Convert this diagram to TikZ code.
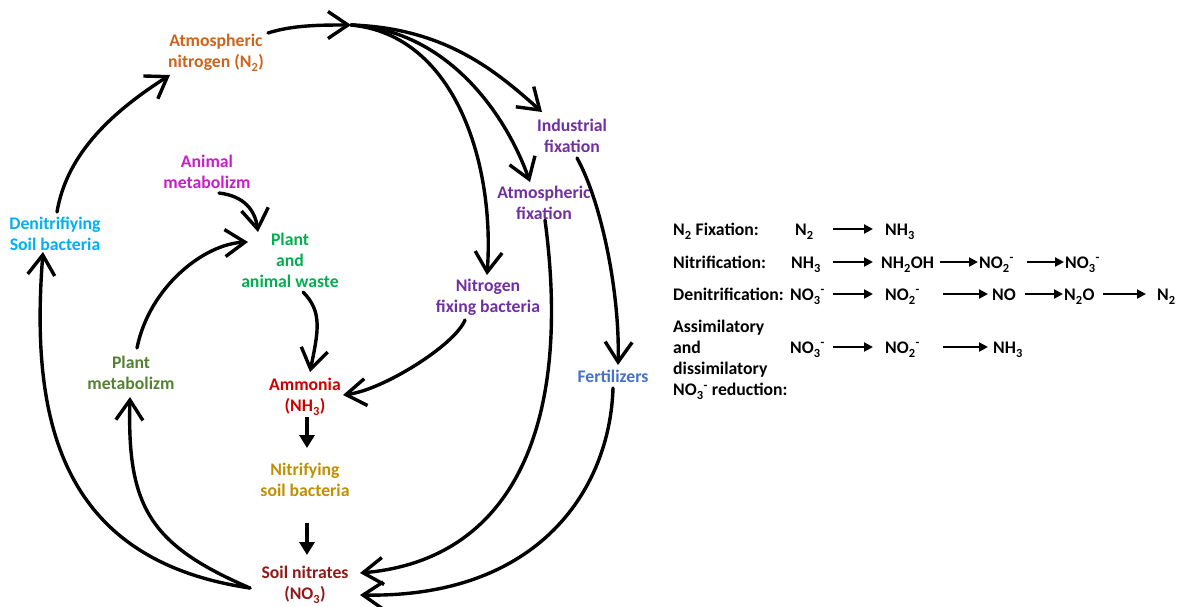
\documentclass[tikz,border=0pt]{standalone}
\usepackage{fontspec}
\setmainfont{Carlito}
\usetikzlibrary{arrows.meta,calc}
\definecolor{cN}{RGB}{205,100,30}
\definecolor{cAnim}{RGB}{200,30,200}
\definecolor{cDenit}{RGB}{0,176,240}
\definecolor{cWaste}{RGB}{0,176,80}
\definecolor{cPurple}{RGB}{112,48,160}
\definecolor{cFert}{RGB}{68,114,196}
\definecolor{cPlantm}{RGB}{84,130,53}
\definecolor{cAmm}{RGB}{205,0,0}
\definecolor{cNitr}{RGB}{191,144,0}
\definecolor{cSoil}{RGB}{145,25,25}
\newcommand\lblfont{\bfseries\fontsize{17.7}{21}\selectfont}
\newcommand\sbs[1]{\raisebox{-1.5pt}{\textsubscript{#1}}}
\begin{document}
\begin{tikzpicture}[x=1pt,y=-1pt,
  lbl/.style={font=\lblfont, align=center, inner sep=0pt},
  tt/.style={font=\lblfont, anchor=base west, inner sep=0pt},
  conn/.style={line width=3.4pt, line cap=round, -{Straight Barb[length=20pt,width=27pt]}},
  fconn/.style={line width=3.8pt, -{Triangle[length=13pt,width=15pt]}},
  tarr/.style={line width=2.2pt, -{Triangle[length=9pt,width=9pt]}}]
\useasboundingbox[fill=white] (0,0) rectangle (1177,606);

% ---- cycle nodes
\node[lbl, text=cN]     (n2)     at (216,53)  {Atmospheric\\nitrogen (N\sbs{2})};
\node[lbl, text=cAnim]  (anim)   at (207,172) {Animal\\metabolizm};
\node[lbl, text=cDenit] (denit)  at (55,234)  {Denitrifiying\\Soil bacteria};
\node[lbl, text=cWaste] (waste)  at (290,260) {Plant\\and\\animal waste};
\node[lbl, text=cPurple] (indf)  at (572,136) {Industrial\\fixation};
\node[lbl, text=cPurple] (atmf)  at (544,203) {Atmospheric\\fixation};
\node[lbl, text=cPurple] (nfb)   at (488,297) {Nitrogen\\fixing bacteria};
\node[lbl, text=cFert]  (fert)   at (613,376) {Fertilizers};
\node[lbl, text=cPlantm] (plantm) at (131,373) {Plant\\metabolizm};
\node[lbl, text=cAmm]   (amm)    at (305,397) {Ammonia\\(NH\sbs{3})};
\node[lbl, text=cNitr]  (nitr)   at (305,480) {Nitrifying\\soil bacteria};
\node[lbl, text=cSoil]  (soil)   at (305,585) {Soil nitrates\\(NO\sbs{3})};
\coordinate (hub) at (351,25);

% ---- connectors
\draw[conn] ($(n2)+(52,-20)$) .. controls +(25,-8) and +(-30,0) .. (hub);
\draw[conn] (hub) .. controls +(95,3) and +(-45,-40) .. ($(indf)+(-30,-24)$);
\draw[conn] (hub) .. controls +(95,5) and +(-25,-70) .. ($(atmf)+(-14,-21)$);
\draw[conn] (hub) .. controls +(105,10) and +(8,-110) .. ($(nfb)+(-1,-22)$);
\draw[conn] ($(indf)+(5,22)$) .. controls +(25,45) and +(2,-70) .. ($(fert)+(5,-11)$);
\draw[conn] ($(atmf)+(1,17)$) .. controls +(28,210) and +(150,-13) .. ($(soil)+(55,-12)$);
\draw[conn] ($(fert)+(0,12)$) .. controls +(-3,100) and +(180,3) .. ($(soil)+(55,10)$);
\draw[conn] ($(nfb)+(-23,23)$) .. controls +(-10,25) and +(40,-5) .. ($(amm)+(38,-2)$);
\draw[conn] ($(anim)+(12,21)$) .. controls +(25,3) and +(-3,-22) .. ($(waste)+(-32,-28)$);
\draw[conn] ($(plantm)+(6,-25)$) .. controls +(12,-60) and +(-45,2) .. ($(waste)+(-42,-18)$);
\draw[conn] ($(waste)+(13,32)$) .. controls +(20,20) and +(8,-40) .. ($(amm)+(5,-25)$);
\draw[fconn] ($(amm)+(2,20)$) -- ($(nitr)+(2,-32)$);
\draw[fconn] ($(nitr)+(2,43)$) -- ($(soil)+(2,-30)$);
\draw[conn] ($(soil)+(-55,3)$) .. controls +(-100,-43) and +(-3,110) .. ($(plantm)+(-1,24)$);
\draw[conn] ($(soil)+(-55,3)$) .. controls +(-190,-28) and +(-13,168) .. ($(denit)+(-12,18)$);
\draw[conn] ($(denit)+(2,-22)$) .. controls +(10,-60) and +(-55,35) .. ($(n2)+(-46,22)$);

% ---- reaction table
\node[tt] (l1)  at (673,235) {N\sbs{2} Fixation:};
\node[tt] (r1a) at (795,235) {N\sbs{2}};
\node[tt] (r1b) at (885,235) {NH\sbs{3}};

\node[tt] (l2)  at (673,268) {Nitrification:};
\node[tt] (r2a) at (791,268) {NH\sbs{3}};
\node[tt] (r2b) at (881,268) {NH\sbs{2}OH};
\node[tt] (r2c) at (979,268) {NO\sbs{2}\textsuperscript{-}};
\node[tt] (r2d) at (1065,268) {NO\sbs{3}\textsuperscript{-}};

\node[tt] (l3)  at (673,300) {Denitrification:};
\node[tt] (r3a) at (790,300) {NO\sbs{3}\textsuperscript{-}};
\node[tt] (r3b) at (885,300) {NO\sbs{2}\textsuperscript{-}};
\node[tt] (r3c) at (992,300) {NO};
\node[tt] (r3d) at (1064,300) {N\sbs{2}O};
\node[tt] (r3e) at (1157,300) {N\sbs{2}};

\node[font=\lblfont, align=left, anchor=west, inner sep=0pt] (l4) at (673,360)
  {Assimilatory\\and\\dissimilatory\\NO\sbs{3}\textsuperscript{-} reduction:};
\node[tt] (r4a) at (790,353) {NO\sbs{3}\textsuperscript{-}};
\node[tt] (r4b) at (885,353) {NO\sbs{2}\textsuperscript{-}};
\node[tt] (r4c) at (993,353) {NH\sbs{3}};

\foreach \n/\xa/\xb/\y in {1/833/873/229, 2/833/873/262, 3/940/978/262, 4/1027/1064/262,
  5/833/873/294, 6/943/988/294, 7/1025/1063/294, 8/1103/1146/294,
  9/833/873/347, 10/943/988/347}{
  \coordinate (ts\n) at (\xa,\y);
  \coordinate (te\n) at (\xb,\y);
  \draw[tarr] (ts\n) -- (te\n);
}
\end{tikzpicture}
\end{document}
